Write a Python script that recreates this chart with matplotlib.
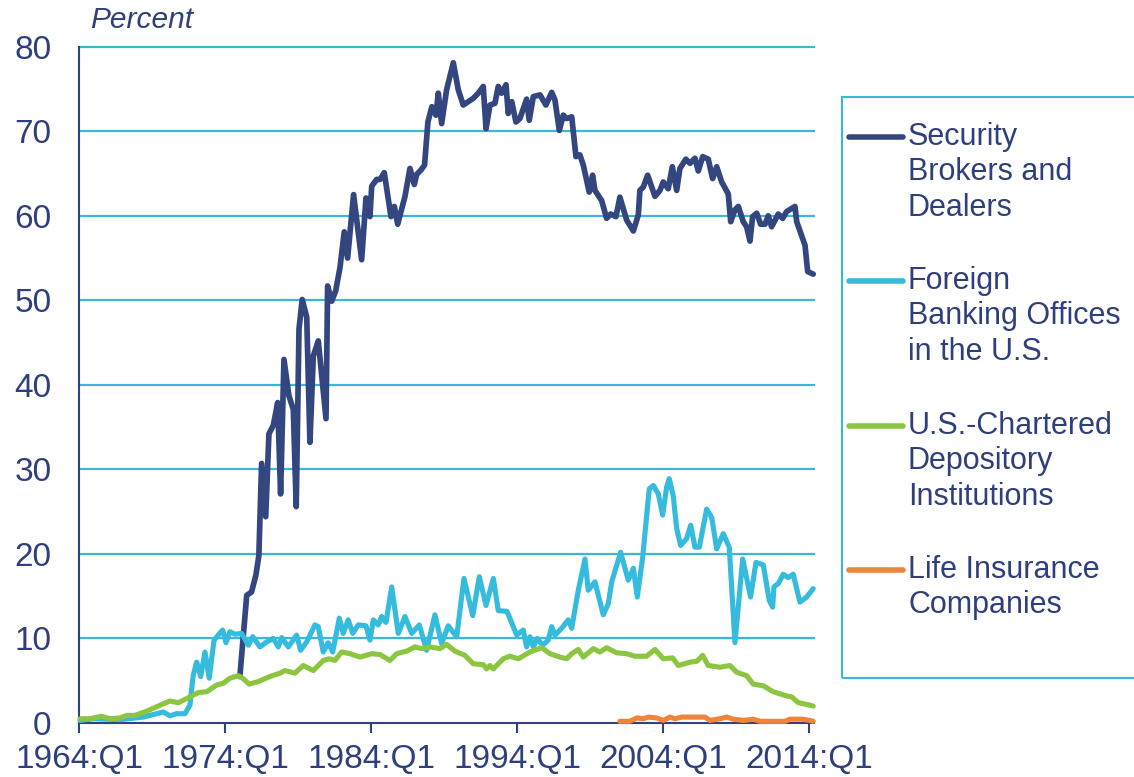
import matplotlib
matplotlib.use("Agg")
import matplotlib.pyplot as plt
from matplotlib.lines import Line2D
from matplotlib.patches import Rectangle

plt.rcParams['font.family'] = ['Liberation Sans', 'DejaVu Sans']

navy = "#31437e"
text_color = "#2f3f7c"
grid_color = "#3ab8da"

# (year, percent) vertices
brokers = [(1975.0, 5.5), (1975.47, 15.1), (1975.8, 15.5), (1976.1, 17.5), (1976.3, 19.8),
           (1976.49, 30.7), (1976.77, 24.4), (1976.99, 34.2), (1977.29, 35.2), (1977.59, 37.9),
           (1977.79, 27.1), (1978.02, 43.0), (1978.36, 38.7), (1978.66, 37.1), (1978.86, 25.6),
           (1979.05, 46.6), (1979.27, 50.1), (1979.58, 48.0), (1979.8, 33.2), (1980.03, 43.4),
           (1980.37, 45.2), (1980.9, 36.0), (1981.01, 51.7), (1981.29, 49.9), (1981.56, 51.1),
           (1981.86, 53.9), (1982.15, 58.1), (1982.38, 55.0), (1982.79, 62.5), (1983.34, 54.8),
           (1983.64, 62.1), (1983.91, 59.9), (1984.03, 63.5), (1984.37, 64.3), (1984.6, 64.3),
           (1984.89, 65.1), (1985.35, 59.9), (1985.58, 61.1), (1985.81, 59.0), (1986.31, 62.3),
           (1986.65, 65.6), (1986.95, 63.7), (1987.11, 64.9), (1987.4, 65.4), (1987.65, 66.0),
           (1987.88, 71.1), (1988.15, 72.9), (1988.43, 71.9), (1988.59, 74.5), (1988.82, 70.9),
           (1989.16, 74.9), (1989.62, 78.1), (1989.96, 74.9), (1990.3, 73.1), (1990.99, 73.9),
           (1991.33, 74.5), (1991.67, 75.3), (1991.86, 70.3), (1992.13, 73.1), (1992.47, 73.3),
           (1992.7, 75.3), (1992.93, 74.5), (1993.23, 75.5), (1993.38, 72.1), (1993.62, 73.5),
           (1993.91, 71.1), (1994.18, 71.5), (1994.64, 73.8), (1994.82, 71.3), (1995.1, 74.1),
           (1995.56, 74.3), (1995.96, 73.1), (1996.36, 74.6), (1996.58, 73.7), (1996.88, 70.1),
           (1997.15, 71.9), (1997.38, 71.5), (1997.73, 71.7), (1998.02, 67.0), (1998.29, 67.2),
           (1998.52, 66.0), (1998.93, 62.8), (1999.16, 64.8), (1999.32, 63.0), (1999.78, 61.8),
           (2000.12, 59.7), (2000.4, 60.2), (2000.76, 59.9), (2001.03, 62.2), (2001.49, 59.5),
           (2001.95, 58.2), (2002.29, 60.1), (2002.4, 63.0), (2002.63, 63.4), (2002.93, 64.8),
           (2003.43, 62.3), (2003.77, 63.0), (2004.0, 64.0), (2004.34, 63.2), (2004.62, 65.8),
           (2004.92, 63.0), (2005.14, 65.6), (2005.55, 66.7), (2005.83, 66.2), (2006.17, 66.8),
           (2006.4, 65.3), (2006.7, 67.0), (2007.08, 66.7), (2007.38, 64.4), (2007.66, 65.8),
           (2008.0, 64.0), (2008.45, 62.6), (2008.62, 59.3), (2008.91, 60.7), (2009.14, 61.1),
           (2009.48, 59.3), (2009.71, 58.7), (2009.94, 57.0), (2010.12, 59.9), (2010.4, 60.3),
           (2010.67, 59.0), (2010.97, 59.0), (2011.19, 60.0), (2011.42, 58.7), (2011.88, 60.2),
           (2012.18, 59.7), (2012.45, 60.5), (2013.02, 61.1), (2013.14, 59.3), (2013.71, 56.5),
           (2013.89, 53.4), (2014.27, 53.1)]

foreign = [(1964.05, 0.3), (1964.96, 0.5), (1966.79, 0.4), (1968.38, 0.7), (1969.75, 1.3),
           (1970.21, 0.85), (1970.67, 1.1), (1971.24, 1.1), (1971.58, 2.1), (1971.8, 5.6),
           (1972.04, 7.2), (1972.32, 5.5), (1972.61, 8.4), (1972.9, 5.3), (1973.23, 9.8),
           (1973.52, 10.4), (1973.82, 11.0), (1974.05, 9.5), (1974.32, 10.8), (1974.66, 10.5),
           (1975.12, 10.6), (1975.58, 9.2), (1975.88, 10.2), (1976.38, 9.0), (1976.84, 9.6),
           (1977.29, 10.0), (1977.63, 9.0), (1977.86, 10.1), (1978.32, 9.0), (1978.89, 10.4),
           (1979.16, 8.6), (1979.58, 9.6), (1980.14, 11.6), (1980.37, 11.4), (1980.71, 8.4),
           (1981.05, 9.5), (1981.36, 8.4), (1981.81, 12.4), (1982.08, 10.6), (1982.42, 12.2),
           (1982.73, 10.6), (1983.11, 11.6), (1983.64, 11.5), (1983.91, 9.8), (1984.14, 12.2),
           (1984.48, 11.6), (1984.71, 12.6), (1985.01, 11.9), (1985.4, 16.1), (1985.85, 10.6),
           (1986.31, 12.6), (1986.77, 10.6), (1987.29, 11.6), (1987.79, 8.6), (1988.36, 12.8),
           (1988.82, 9.4), (1989.27, 11.5), (1989.85, 10.2), (1990.35, 17.1), (1990.95, 12.7),
           (1991.4, 17.3), (1991.86, 13.9), (1992.36, 17.1), (1992.7, 13.3), (1993.3, 13.2),
           (1993.96, 10.4), (1994.41, 11.0), (1994.64, 9.0), (1994.87, 10.2), (1995.1, 9.0),
           (1995.37, 10.0), (1995.74, 9.2), (1996.12, 9.8), (1996.36, 11.4), (1996.58, 10.4),
           (1997.04, 11.2), (1997.49, 12.2), (1997.73, 11.2), (1998.18, 15.7), (1998.64, 19.4),
           (1998.86, 15.7), (1999.32, 16.7), (1999.89, 12.8), (2000.23, 14.1), (2000.47, 16.7),
           (2001.08, 20.2), (2001.6, 16.9), (2001.95, 18.3), (2002.22, 14.9), (2002.59, 19.6),
           (2003.04, 27.7), (2003.32, 28.1), (2003.66, 27.1), (2003.96, 24.6), (2004.23, 27.9),
           (2004.41, 28.9), (2004.68, 26.9), (2004.92, 23.0), (2005.19, 21.0), (2005.6, 21.8),
           (2005.88, 23.4), (2006.17, 20.8), (2006.47, 20.8), (2006.97, 25.3), (2007.32, 24.3),
           (2007.66, 20.6), (2008.11, 22.4), (2008.52, 20.8), (2008.91, 9.5), (2009.44, 19.4),
           (2009.98, 14.9), (2010.35, 19.0), (2010.85, 18.7), (2011.26, 14.5), (2011.49, 13.7),
           (2011.58, 16.1), (2011.88, 16.5), (2012.22, 17.6), (2012.56, 17.2), (2012.9, 17.6),
           (2013.36, 14.3), (2013.82, 14.9), (2014.27, 15.9)]

depository = [(1964.05, 0.5), (1964.73, 0.5), (1965.53, 0.8), (1966.1, 0.5), (1966.79, 0.6),
              (1967.25, 0.9), (1967.82, 0.9), (1968.62, 1.4), (1969.53, 2.1), (1970.21, 2.6),
              (1970.78, 2.4), (1971.36, 2.9), (1972.15, 3.6), (1972.73, 3.7), (1973.41, 4.5),
              (1973.86, 4.7), (1974.32, 5.3), (1974.89, 5.6), (1975.19, 5.3), (1975.64, 4.6),
              (1976.26, 4.9), (1977.06, 5.5), (1977.75, 5.9), (1978.09, 6.2), (1978.77, 5.9),
              (1979.34, 6.8), (1980.03, 6.2), (1980.71, 7.4), (1981.12, 7.6), (1981.51, 7.4),
              (1981.97, 8.4), (1982.54, 8.2), (1983.23, 7.8), (1984.03, 8.2), (1984.6, 8.1),
              (1985.28, 7.4), (1985.74, 8.2), (1986.42, 8.5), (1986.99, 9.0), (1987.45, 8.8),
              (1988.02, 9.0), (1988.71, 8.8), (1989.16, 9.3), (1989.73, 8.5), (1990.42, 8.0),
              (1990.99, 7.0), (1991.67, 6.9), (1991.9, 6.4), (1992.13, 6.8), (1992.36, 6.4),
              (1993.04, 7.6), (1993.5, 7.9), (1994.07, 7.6), (1994.87, 8.4), (1995.67, 8.9),
              (1996.24, 8.2), (1996.92, 7.8), (1997.38, 7.6), (1997.73, 8.2), (1998.18, 8.7),
              (1998.52, 7.8), (1999.21, 8.8), (1999.66, 8.4), (2000.12, 8.9), (2000.81, 8.3),
              (2001.49, 8.2), (2002.06, 7.9), (2002.86, 7.9), (2003.43, 8.7), (2004.0, 7.6),
              (2004.64, 7.7), (2005.03, 6.8), (2005.83, 7.2), (2006.29, 7.3), (2006.7, 8.0),
              (2007.08, 6.8), (2007.88, 6.6), (2008.57, 6.8), (2009.03, 6.0), (2009.71, 5.6),
              (2010.16, 4.6), (2010.85, 4.4), (2011.53, 3.7), (2012.45, 3.2), (2012.79, 3.1),
              (2013.25, 2.4), (2013.82, 2.2), (2014.27, 2.0)]

life_ins = [(2001.03, 0.2), (2001.72, 0.2), (2002.18, 0.6), (2002.63, 0.5), (2002.97, 0.7),
            (2003.55, 0.6), (2004.0, 0.3), (2004.46, 0.7), (2004.8, 0.5), (2005.26, 0.7),
            (2006.05, 0.7), (2006.86, 0.7), (2007.2, 0.3), (2007.88, 0.5), (2008.34, 0.7),
            (2008.79, 0.45), (2009.48, 0.3), (2010.16, 0.45), (2010.62, 0.2), (2011.53, 0.2),
            (2012.34, 0.2), (2012.68, 0.45), (2013.48, 0.45), (2014.05, 0.3), (2014.27, 0.2)]

series = [
    (brokers, "#33467f", 4.1, "Security\nBrokers and\nDealers"),
    (foreign, "#35bbdd", 3.7, "Foreign\nBanking Offices\nin the U.S."),
    (depository, "#8cc641", 3.7, "U.S.-Chartered\nDepository\nInstitutions"),
    (life_ins, "#f0843a", 3.7, "Life Insurance\nCompanies"),
]

tick_years = [1964, 1974, 1984, 1994, 2004, 2014]
tick_labels = ["1964:Q1", "1974:Q1", "1984:Q1", "1994:Q1", "2004:Q1", "2014:Q1"]

fig = plt.figure(figsize=(11.34, 7.77), dpi=100)
ax = fig.add_axes([0.0699, 0.0695, 0.6476, 0.8704])

for pts, color, lw, label in series:
    xs = [p[0] for p in pts]
    ys = [p[1] for p in pts]
    ax.plot(xs, ys, color=color, lw=lw, solid_joinstyle="round",
            solid_capstyle="round", clip_on=False, zorder=3)

ax.set_xlim(1964, 2014.3)
ax.set_ylim(0, 80)
ax.set_yticks(range(0, 81, 10))
ax.set_xticks(tick_years)
ax.set_xticklabels(tick_labels)

for v in range(10, 81, 10):
    ax.axhline(v, color=grid_color, lw=1.6, zorder=1, clip_on=False)

for s in ["top", "right"]:
    ax.spines[s].set_visible(False)
for s in ["left", "bottom"]:
    ax.spines[s].set_color(navy)
    ax.spines[s].set_linewidth(1.5)

ax.tick_params(axis="y", length=0, pad=20, labelsize=24, labelcolor=text_color)
ax.tick_params(axis="x", direction="out", length=7, width=1.5, color=navy,
               pad=8, labelsize=24, labelcolor=text_color)

fig.text(90 / 1134, 1 - 20 / 777, "Percent", style="italic", fontsize=21.5,
         color=text_color, va="center", ha="left")

# legend box drawn by hand so the swatch sits on the first line of each label
fig.add_artist(Rectangle((842 / 1134, 1 - 678 / 777), 300 / 1134, 581 / 777,
                         transform=fig.transFigure, fill=False,
                         edgecolor=grid_color, lw=1.5))
first_rows = [137, 281, 426, 570]
row_gap = 35.5
for (pts, color, lw, label), y0 in zip(series, first_rows):
    fig.add_artist(Line2D([849 / 1134, 903 / 1134], [1 - y0 / 777, 1 - y0 / 777],
                          transform=fig.transFigure, color=color, lw=4.0,
                          solid_capstyle="round"))
    for i, line in enumerate(label.split("\n")):
        fig.text(908 / 1134, 1 - (y0 + i * row_gap) / 777, line, fontsize=22,
                 color=text_color, va="center", ha="left")

fig.savefig("out.png", dpi=100, facecolor="white")
